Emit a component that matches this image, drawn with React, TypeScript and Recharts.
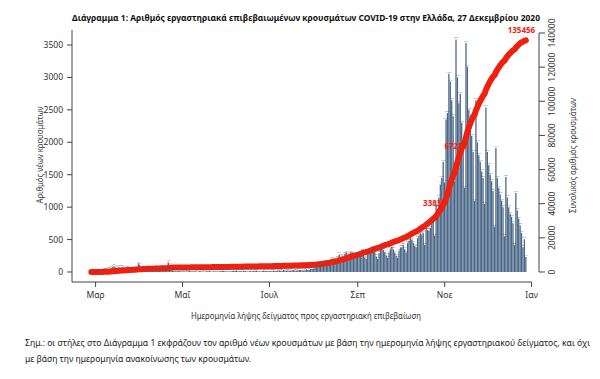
import React from 'react';
import { ComposedChart, Bar, Line, XAxis, YAxis, ReferenceLine, LabelList } from 'recharts';

// Daily new cases by sampling date
const feb = [2, 3, 5, 1]; // Feb 26-29
const mar = [4, 8, 10, 12, 20, 25, 30, 35, 40, 45, 60, 75, 90, 70, 65, 70, 70, 70, 75, 60, 50, 55, 60, 50, 45, 45, 40, 55, 50, 130, 110];
const apr = [45, 40, 50, 35, 30, 25, 40, 30, 25, 35, 30, 25, 20, 25, 40, 30, 25, 20, 60, 150, 110, 30, 20, 15, 12, 10, 15, 12, 10, 8];
const may = [10, 8, 6, 12, 15, 10, 8, 12, 10, 6, 8, 12, 10, 8, 6, 9, 12, 10, 15, 8, 6, 10, 12, 8, 6, 10, 14, 20, 18, 12, 8];
const jun = [12, 8, 10, 15, 20, 18, 25, 10, 12, 15, 8, 20, 15, 10, 8, 12, 18, 10, 14, 20, 25, 12, 10, 8, 15, 20, 18, 12, 16, 10];
const jul = [15, 12, 20, 18, 14, 25, 22, 18, 20, 30, 25, 20, 22, 18, 25, 28, 30, 22, 20, 26, 35, 30, 25, 22, 28, 40, 35, 30, 45, 50, 55];
const aug = [70, 80, 110, 90, 85, 100, 130, 150, 120, 140, 150, 170, 200, 180, 140, 190, 220, 270, 230, 240, 190, 280, 300, 250, 260, 300, 280, 270, 220, 240, 260];
const sep = [250, 300, 320, 280, 220, 200, 280, 300, 320, 350, 340, 310, 240, 200, 290, 350, 380, 340, 310, 260, 220, 300, 360, 390, 350, 300, 250, 220, 330, 380];
const oct = [380, 420, 350, 300, 450, 480, 520, 500, 450, 400, 380, 520, 560, 600, 580, 600, 420, 720, 650, 640, 680, 760, 800, 560, 1050, 980, 1150, 1350, 1450, 1700, 1380];
const nov = [2350, 2450, 3055, 2936, 2650, 2400, 1400, 3586, 3000, 2600, 2750, 2300, 1942, 1300, 3530, 3167, 2500, 2300, 2100, 1850, 1100, 2650, 2000, 1800, 1700, 1550, 1450, 1050, 2537, 1850];
const dec = [1650, 1500, 1400, 1250, 700, 1913, 1450, 1300, 1200, 1100, 1000, 550, 1466, 1150, 1000, 900, 850, 750, 420, 1217, 950, 820, 720, 600, 380, 505, 230];

const firstDay = -3; // Feb 26 relative to Mar 1
const monthTickDays = [0, 61, 122, 184, 245, 306];
const monthTickLabels = ['Μαρ', 'Μαΐ', 'Ιουλ', 'Σεπ', 'Νοε', 'Ιαν'];
const leftTicks = [0, 500, 1000, 1500, 2000, 2500, 3000, 3500];
const rightTicks = [0, 20000, 40000, 60000, 80000, 100000, 120000, 140000];
const labelledDays = [240, 255, 301];

const title = 'Διάγραμμα 1: Αριθμός εργαστηριακά επιβεβαιωμένων κρουσμάτων COVID-19 στην Ελλάδα, 27 Δεκεμβρίου 2020';
const xTitle = 'Ημερομηνία λήψης δείγματος προς εργαστηριακή επιβεβαίωση';
const yLeftTitle = 'Αριθμός νέων κρουσμάτων';
const yRightTitle = 'Συνολικός αριθμός κρουσμάτων';
const note1 = 'Σημ.: οι στήλες στο Διάγραμμα 1 εκφράζουν τον αριθμό νέων κρουσμάτων με βάση την ημερομηνία λήψης εργαστηριακού δείγματος, και όχι';
const note2 = 'με βάση την ημερομηνία ανακοίνωσης των κρουσμάτων.';

const daily = [...feb, ...mar, ...apr, ...may, ...jun, ...jul, ...aug, ...sep, ...oct, ...nov, ...dec];
let running = 0;
const rows = daily.map((v, i) => {
  running += v;
  return { d: firstDay + i, v, cum: running };
});

const X_DOMAIN: [number, number] = [-16.56, 311.2];
const L_DOMAIN: [number, number] = [-154.2, 3731.3];
const R_DOMAIN: [number, number] = [-5858, 141757];

const RED = '#f0200f';
const BLUE = '#4a6788';
const FONT = '"Noto Sans", "Open Sans", sans-serif';

const RightTick = (p: any) => (
  <text
    x={p.x + 5}
    y={p.y}
    transform={`rotate(-90, ${p.x + 5}, ${p.y})`}
    textAnchor="middle"
    dominantBaseline="central"
    fontSize={8.5}
    fill="#333"
    fontFamily={FONT}
  >
    {p.payload.value}
  </text>
);

const CumLabel = (p: any) => {
  const row = rows[p.index];
  if (!row || !labelledDays.includes(row.d)) return null;
  return (
    <text x={p.x - 3} y={p.y - 8} textAnchor="middle" fontSize={8} fontWeight="bold" fill={RED} fontFamily={FONT}>
      {row.cum}
    </text>
  );
};

export default function App() {
  return (
    <div style={{ position: 'absolute', left: 0, top: 0, width: 600, height: 379, background: '#fff' }}>
      <ComposedChart
        width={600}
        height={379}
        data={rows}
        margin={{ top: 30, right: 0, bottom: 67, left: 0 }}
        barCategoryGap={0}
      >
        <XAxis
          dataKey="d"
          type="number"
          domain={X_DOMAIN}
          allowDataOverflow
          ticks={monthTickDays}
          tickFormatter={(v: number) => monthTickLabels[monthTickDays.indexOf(v)] ?? ''}
          axisLine={false}
          tickSize={5}
          tickMargin={5}
          height={30}
          tick={{ fontSize: 8.5, fill: '#333', fontFamily: FONT }}
          tickLine={{ stroke: '#444' }}
        />
        <YAxis
          yAxisId="left"
          orientation="left"
          width={72}
          domain={L_DOMAIN}
          allowDataOverflow
          ticks={leftTicks}
          tickSize={5}
          tickMargin={4}
          tick={{ fontSize: 8.5, fill: '#333', fontFamily: FONT }}
          axisLine={{ stroke: '#444' }}
          tickLine={{ stroke: '#444' }}
        />
        <YAxis
          yAxisId="right"
          orientation="right"
          width={61}
          domain={R_DOMAIN}
          allowDataOverflow
          ticks={rightTicks}
          tickSize={6}
          tickMargin={2}
          tick={<RightTick />}
          axisLine={false}
          tickLine={{ stroke: '#444' }}
        />
        <ReferenceLine
          yAxisId="left"
          segment={[{ x: X_DOMAIN[0], y: L_DOMAIN[0] }, { x: monthTickDays[monthTickDays.length - 1], y: L_DOMAIN[0] }]}
          stroke="#444"
          ifOverflow="visible"
        />
        <ReferenceLine
          yAxisId="right"
          segment={[{ x: X_DOMAIN[1], y: rightTicks[0] }, { x: X_DOMAIN[1], y: rightTicks[rightTicks.length - 1] }]}
          stroke="#444"
          ifOverflow="visible"
        />
        <Bar yAxisId="left" dataKey="v" fill={BLUE} barSize={2} isAnimationActive={false}>
          <LabelList dataKey="v" position="top" offset={1} fontSize={2.5} fill="#555" />
        </Bar>
        <Line
          yAxisId="right"
          dataKey="cum"
          stroke={RED}
          strokeWidth={6}
          strokeLinecap="round"
          strokeLinejoin="round"
          dot={false}
          isAnimationActive={false}
          label={<CumLabel />}
        />
      </ComposedChart>
      <svg width={600} height={379} style={{ position: 'absolute', left: 0, top: 0, pointerEvents: 'none' }}>
        <text x={306} y={20.5} textAnchor="middle" fontSize={8.5} fontWeight="bold" fill="#111" fontFamily={FONT} textLength={468} lengthAdjust="spacingAndGlyphs">{title}</text>
        <text x={306} y={319} textAnchor="middle" fontSize={8} fill="#333" fontFamily={FONT} textLength={230} lengthAdjust="spacingAndGlyphs">{xTitle}</text>
        <text x={39.5} y={155} transform="rotate(-90, 39.5, 155)" textAnchor="middle" dominantBaseline="central" fontSize={8} fill="#333" fontFamily={FONT} textLength={97} lengthAdjust="spacingAndGlyphs">{yLeftTitle}</text>
        <text x={572} y={155.5} transform="rotate(-90, 572, 155.5)" textAnchor="middle" dominantBaseline="central" fontSize={8} fill="#333" fontFamily={FONT} textLength={115} lengthAdjust="spacingAndGlyphs">{yRightTitle}</text>
        <text x={25} y={346} fontSize={8.2} fill="#222" fontFamily={FONT} textLength={565} lengthAdjust="spacingAndGlyphs">{note1}</text>
        <text x={25} y={362} fontSize={8.2} fill="#222" fontFamily={FONT} textLength={226} lengthAdjust="spacingAndGlyphs">{note2}</text>
      </svg>
    </div>
  );
}
